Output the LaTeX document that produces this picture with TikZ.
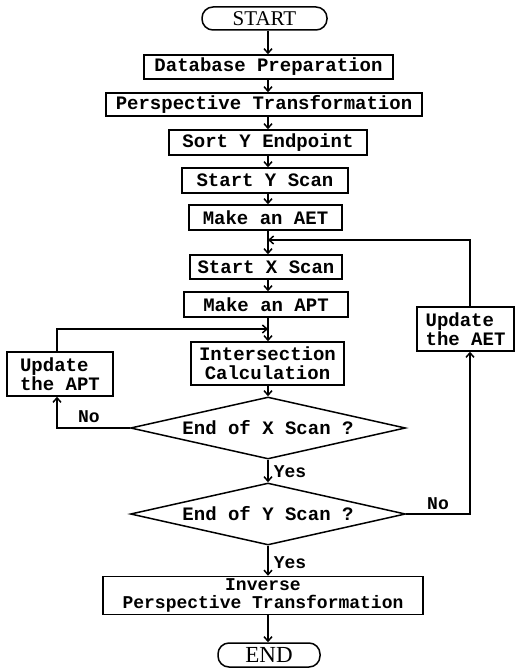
\documentclass[tikz,border=0pt]{standalone}
\usepackage{fontspec}
\setmainfont{Liberation Serif}
\newfontfamily\plotfont{Liberation Mono}
\usetikzlibrary{arrows.meta,shapes.geometric}
\begin{document}
\begin{tikzpicture}[x=1pt,y=-1pt,
  line width=1.5pt,
  arr/.style={-{Straight Barb[length=4.5pt,width=8pt]}},
  box/.style={draw, rectangle, inner sep=0pt, font=\plotfont\bfseries\fontsize{19}{19}\selectfont},
  term/.style={draw, rectangle, rounded corners=11pt, inner sep=0pt},
  dec/.style={draw, diamond, aspect=4.4, inner sep=0pt, minimum width=275pt, minimum height=62pt, font=\plotfont\bfseries\fontsize{19}{18}\selectfont},
  lab/.style={font=\plotfont\bfseries\fontsize{18}{18}\selectfont, inner sep=0pt}
]
\useasboundingbox (0,0) rectangle (518,668);
\coordinate (ax) at (268,0);

\node[term, minimum width=125pt, minimum height=23pt, font=\fontsize{21}{21}\selectfont] (start) at (264.5,18.5) {START};
\node[box, minimum width=249pt, minimum height=24pt] (db) at (268.5,67) {Database Preparation};
\node[box, minimum width=316pt, minimum height=23pt] (persp) at (264,104.5) {Perspective Transformation};
\node[box, minimum width=198pt, minimum height=25pt] (sort) at (268,142.5) {Sort Y Endpoint};
\node[box, minimum width=166pt, minimum height=25pt] (starty) at (265,180.5) {Start Y Scan};
\node[box, minimum width=153pt, minimum height=25pt] (aet) at (265.5,217.5) {Make an AET};
\node[box, minimum width=152pt, minimum height=24pt] (startx) at (266,267) {Start X Scan};
\node[box, minimum width=164pt, minimum height=25pt] (apt) at (266,304.5) {Make an APT};
\node[box, minimum width=153pt, minimum height=43pt, align=center] (inter) at (267.5,363.5) {Intersection\\Calculation};
\node[box, minimum width=106pt, minimum height=44pt, align=left] (updapt) at (60,374) {Update\\the APT};
\node[box, minimum width=97pt, minimum height=44pt, align=left] (updaet) at (465.5,329) {Update\\the AET};
\node[dec] (dx) at (268,428) {End of X Scan ?};
\node[dec] (dy) at (268,514) {End of Y Scan ?};
\node[box, minimum width=320pt, minimum height=38pt, align=center, font=\plotfont\bfseries\fontsize{18}{18}\selectfont] (inv) at (263,595.5) {Inverse\\Perspective Transformation};
\node[term, minimum width=102pt, minimum height=24pt, font=\fontsize{23}{23}\selectfont] (end) at (269,655) {END};

\coordinate (jy) at (268,240);
\coordinate (jx) at (268,329);
\coordinate (ll) at (57,428);
\coordinate (rl) at (470,514);

\draw[arr] (start.south -| ax) -- (db.north -| ax);
\draw[arr] (db.south -| ax) -- (persp.north -| ax);
\draw[arr] (persp.south -| ax) -- (sort.north -| ax);
\draw[arr] (sort.south -| ax) -- (starty.north -| ax);
\draw[arr] (starty.south -| ax) -- (aet.north -| ax);
\draw[arr] (aet.south -| ax) -- (startx.north -| ax);
\draw[arr] (startx.south -| ax) -- (apt.north -| ax);
\draw[arr] (apt.south -| ax) -- (inter.north -| ax);
\draw[arr] (inter.south -| ax) -- (dx.north);
\draw[arr] (dx.south) -- node[lab, right=5pt, pos=0.55] {Yes} (dy.north);
\draw[arr] (dy.south) -- node[lab, right=5pt, pos=0.55] {Yes} (inv.north -| ax);
\draw[arr] (inv.south -| ax) -- (end.north -| ax);

\draw[arr] (dx.west) -- (ll) -- (updapt.south -| ll);
\node[lab] at (89,417) {No};
\draw[arr] (updapt.north -| ll) -- (ll |- jx) -- (jx);

\draw[arr] (dy.east) -- (rl) -- (updaet.south -| rl);
\node[lab] at (438,504) {No};
\draw[arr] (updaet.north -| rl) -- (rl |- jy) -- (jy);
\end{tikzpicture}
\end{document}
